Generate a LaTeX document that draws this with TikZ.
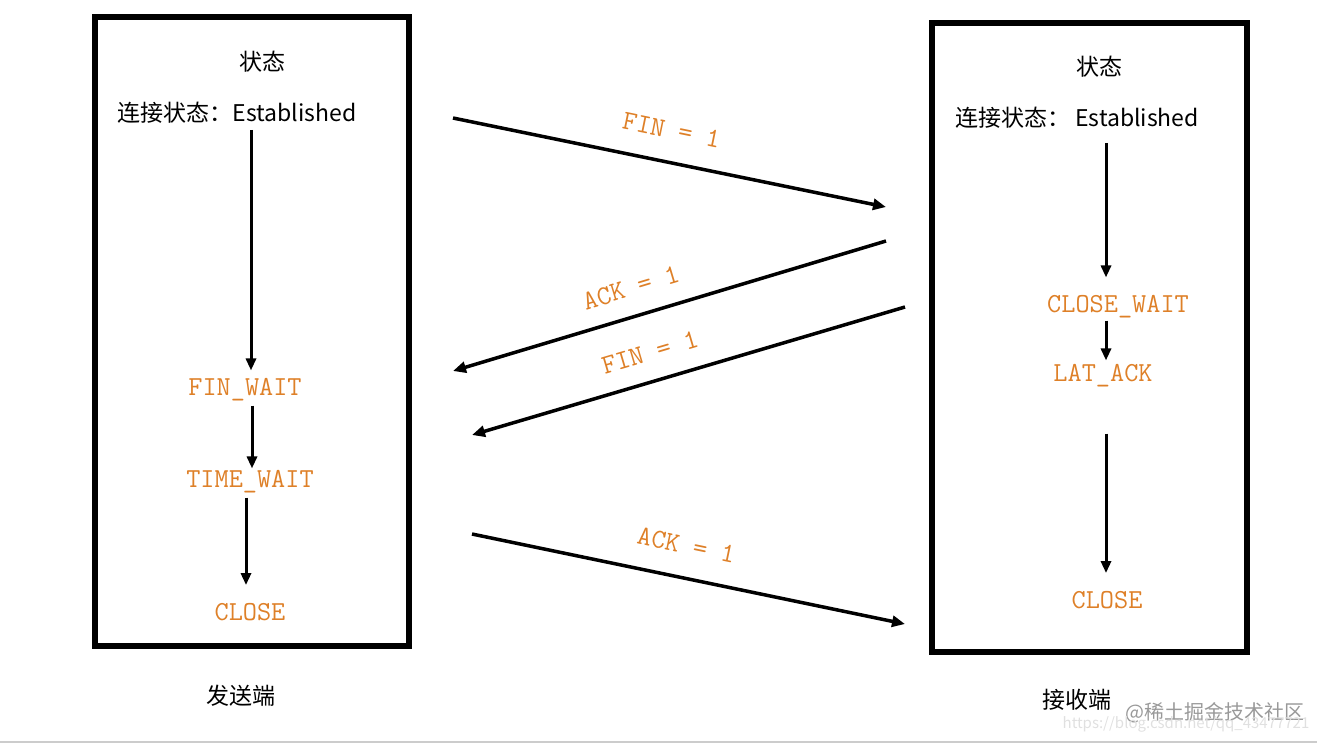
\documentclass[tikz,border=0pt]{standalone}
\usepackage{fontspec}
\setmainfont{Noto Sans CJK SC}
\usepackage{xcolor}
\usetikzlibrary{positioning, arrows.meta, calc}
\definecolor{stateorange}{RGB}{222,128,40}

\begin{document}
\begin{tikzpicture}
      [x=1pt, y=-1pt, inner sep=2pt,
       side/.style={draw=black, line width=6pt},
       label/.style={font=\fontsize{23}{26}\selectfont},
       state/.style={font=\ttfamily\fontsize{27.5}{28}\selectfont, text=stateorange},
       msg/.style={line width=3.5pt, -{Triangle[length=13pt,width=11pt]}},
       step arrow/.style={line width=3pt, -{Triangle[length=12pt,width=10pt]}}]
        \useasboundingbox (0,0) rectangle (1317,745);
        \draw[black!20, line width=1.5pt] (0,742) -- (1317,742);

        % sender
        \draw[side] (95,17) rectangle (409,646);
        \node (ST1) at (262,62) [label] {状态};
        \node (E1) at (237,113) [label] {连接状态：Established};
        \node (FW) at (245,390) [state] {FIN\_WAIT};
        \node (TW) at (250,482) [state] {TIME\_WAIT};
        \node (C1) at (250,612) [state] {CLOSE};
        \node (S) at (241,696) [label] {发送端};

        % receiver
        \draw[side] (932,23) rectangle (1247,652);
        \node (ST2) at (1099,67) [label] {状态};
        \node (E2) at (1077,118) [label] {连接状态： Established};
        \node (CW) at (1118,307) [state] {CLOSE\_WAIT};
        \node (LA) at (1103,376) [state] {LAT\_ACK};
        \node (C2) at (1107,600) [state] {CLOSE};
        \node (R) at (1077,700) [label] {接收端};

        \draw[step arrow, shorten <=4pt, shorten >=6pt]
          ([xshift=6pt]FW.north |- E1.south) -- ([xshift=6pt]FW.north);
        \draw[step arrow, shorten <=2pt, shorten >=0pt]
          ([xshift=2pt]TW.north |- FW.south) -- ([xshift=2pt]TW.north);
        \draw[step arrow, shorten <=2pt, shorten >=16pt]
          ([xshift=-4pt]C1.north |- TW.south) -- ([xshift=-4pt]C1.north);
        \draw[step arrow, shorten <=12pt, shorten >=16pt]
          ([xshift=-12pt]CW.north |- E2.south) -- ([xshift=-12pt]CW.north);
        \draw[step arrow, shorten <=0pt, shorten >=2pt]
          ([xshift=3pt]LA.north |- CW.south) -- ([xshift=3pt]LA.north);
        \draw[step arrow, shorten <=44pt, shorten >=16pt]
          ([xshift=-1pt]C2.north |- LA.south) -- ([xshift=-1pt]C2.north);

        % messages
        \coordinate (m1a) at (453,118);
        \coordinate (m1b) at (886,207);
        \coordinate (m2a) at (886,241);
        \coordinate (m2b) at (453,371);
        \coordinate (m3a) at (905,307);
        \coordinate (m3b) at (472,435);
        \coordinate (m4a) at (472,534);
        \coordinate (m4b) at (905,624);
        \draw[msg] (m1a) -- node[pos=0.49, sloped, above=20pt, state] {FIN = 1} (m1b);
        \draw[msg] (m2a) -- node[pos=0.57, sloped, above=16pt, state] {ACK = 1} (m2b);
        \draw[msg] (m3a) -- node[pos=0.57, sloped, above=17pt, state] {FIN = 1} (m3b);
        \draw[msg] (m4a) -- node[pos=0.48, sloped, above=20pt, state] {ACK = 1} (m4b);

        \node (W1) at (1215,713) [font=\fontsize{20}{22}\selectfont, text=black!40] {@稀土掘金技术社区};
        \node (W2) at (1186,724) [font=\fontsize{15}{17}\selectfont, text=black!12] {https://blog.csdn.net/qq\_43477721};
      \end{tikzpicture}
\end{document}
